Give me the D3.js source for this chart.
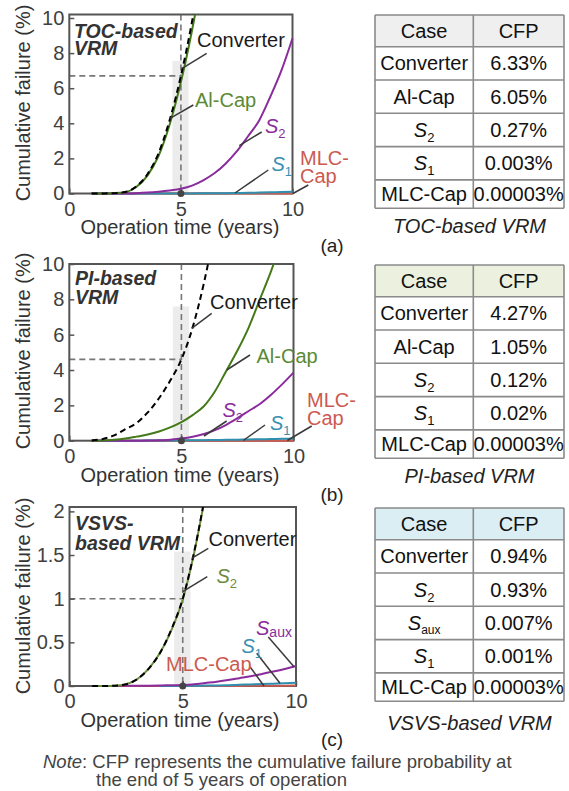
<!DOCTYPE html>
<html><head><meta charset="utf-8">
<script src="https://cdn.jsdelivr.net/npm/d3@7"></script>
<style>
html,body{margin:0;padding:0;background:#fff;}
svg{display:block;font-family:"Liberation Sans",Arial,sans-serif;}
</style></head><body>
<svg id="chart" width="569" height="791"></svg>
<script>
// ---------------- DATA ----------------
const years = [1,1.5,2,2.5,3,3.5,4,4.5,5,5.5,6,6.5,7,7.5,8,8.5,9,9.5,10];
const xTicks = [0,5,10];
const xTickLabels = ["0","5","10"];
const yTicksAB = [0,2,4,6,8,10];
const yTickLabelsAB = ["0","2","4","6","8","10"];
const yTicksC = [0,0.5,1,1.5,2];
const yTickLabelsC = ["0","0.5","1","1.5","2"];

// (a) TOC-based VRM, cumulative failure (%)
const tocConverter = [0,0.005,0.02,0.08,0.4,1.1,2.3,4.2,6.7,9.8,13.5,null,null,null,null,null,null,null,null];
const tocAlCap     = [0,0.005,0.02,0.075,0.37,1.02,2.15,3.95,6.35,9.3,12.8,null,null,null,null,null,null,null,null];
const tocS2        = [0,0,0,0.005,0.02,0.05,0.1,0.17,0.27,0.45,0.75,1.15,1.7,2.4,3.25,4.15,5.5,7.0,8.85];
const tocS1        = [0,0,0,0,0,0,0,0.002,0.003,0.005,0.01,0.015,0.02,0.03,0.04,0.055,0.07,0.085,0.1];
const tocMLC       = [0,0,0,0,0,0,0,0,0,0,0,0,0,0,0,0,0.001,0.002,0.004];
const tocCases = ["Converter","Al-Cap","S_2","S_1","MLC-Cap"];
const tocCFP   = ["6.33%","6.05%","0.27%","0.003%","0.00003%"];

// (b) PI-based VRM
const piConverter = [0.01,0.1,0.3,0.65,1.0,1.6,2.4,3.4,4.6,6.4,8.9,12,null,null,null,null,null,null,null];
const piAlCap     = [0,0.01,0.05,0.12,0.23,0.35,0.52,0.75,1.05,1.45,1.95,2.8,3.95,5.1,6.4,8.0,9.6,11.4,null];
const piS2        = [0,0,0,0,0,0.005,0.02,0.06,0.12,0.22,0.38,0.6,0.9,1.28,1.68,2.08,2.6,3.2,3.85];
const piS1        = [0,0,0,0,0.002,0.005,0.01,0.015,0.02,0.025,0.03,0.04,0.05,0.06,0.07,0.08,0.09,0.105,0.12];
const piMLC       = [0,0,0,0,0,0,0,0,0,0,0,0,0,0,0,0,0.001,0.002,0.003];
const piCases = ["Converter","Al-Cap","S_2","S_1","MLC-Cap"];
const piCFP   = ["4.27%","1.05%","0.12%","0.02%","0.00003%"];

// (c) VSVS-based VRM
const vsConverter = [0,0,0.003,0.02,0.08,0.2,0.38,0.65,1.0,1.53,2.2,null,null,null,null,null,null,null,null];
const vsS2        = [0,0,0.003,0.02,0.08,0.2,0.38,0.64,0.99,1.52,2.19,null,null,null,null,null,null,null,null];
const vsSaux      = [0,0.001,0.001,0.002,0.003,0.004,0.006,0.009,0.012,0.02,0.035,0.05,0.068,0.09,0.112,0.138,0.165,0.195,0.23];
const vsS1        = [null,null,null,null,null,null,0,0,0.001,0.003,0.005,0.007,0.01,0.014,0.018,0.022,0.027,0.032,0.038];
const vsMLC       = [0,0,0,0,0,0,0,0,0,0,0,0,0.001,0.001,0.002,0.002,0.003,0.004,0.005];
const vsCases = ["Converter","S_2","S_aux","S_1","MLC-Cap"];
const vsCFP   = ["0.94%","0.93%","0.007%","0.001%","0.00003%"];

// ---------------- STYLE / LAYOUT ----------------
const C = {
  conv:"#000000", green:"#447a1a", green2:"#6b8e3a", purple:"#8a2c9c", teal:"#2f8fae", red:"#cc5a4f",
  greenTxt:"#5b8a35", greenTxt2:"#6e8b3d", purpleTxt:"#8a2c9c", tealTxt:"#3a90b0", redTxt:"#cc5a4f",
  axis:"#555555", text:"#333333", leader:"#3a3a3a"
};

const panels = [
  { x0:69.3, x1:292.5, yTop:14.5, yBot:193.5, yMax:10.2, yTicks:yTicksAB, yLabels:yTickLabelsAB,
    bandTop:7.55, xTitleY:234, yTitleY:103, letter:{t:"(a)",x:332,y:252},
    title:[{t:"TOC-based",y:38},{t:"VRM",y:55}], titleX:74,
    series:[
      {v:tocMLC,c:C.red},{v:tocS1,c:C.teal},{v:tocS2,c:C.purple},
      {v:tocAlCap,c:C.green},{v:tocConverter,c:C.conv,dash:true}],
    ref:tocConverter,
    labels:[
      {t:"Converter",x:197,y:47,c:"#1a1a1a",l:[206.7,53.3,182.2,68.3]},
      {t:"Al-Cap",x:195,y:107,c:C.greenTxt,l:[193.3,105,170,118.3]},
      {t:"S_2",x:265,y:133,c:C.purpleTxt,l:[261.7,132,239.3,145.7]},
      {t:"S_1",x:271.5,y:171,c:C.tealTxt,l:[268.3,170,235,193]},
      {t:"MLC-",x:300,y:165,c:C.redTxt,l:[308.3,185,293,193.5]},
      {t:"Cap",x:300,y:182.5,c:C.redTxt}],
    table:{top:15, cases:tocCases, cfp:tocCFP, head:"#efefef", cap:"TOC-based VRM", capY:233}
  },
  { x0:69.3, x1:293.5, yTop:264, yBot:440.7, yMax:10, yTicks:yTicksAB, yLabels:yTickLabelsAB,
    bandTop:7.6, xTitleY:482, yTitleY:351, letter:{t:"(b)",x:332,y:501},
    title:[{t:"PI-based",y:285},{t:"VRM",y:304}], titleX:75,
    series:[
      {v:piMLC,c:C.red},{v:piS1,c:C.teal},{v:piS2,c:C.purple},
      {v:piAlCap,c:C.green},{v:piConverter,c:C.conv,dash:true}],
    ref:piConverter,
    labels:[
      {t:"Converter",x:210,y:309,c:"#1a1a1a",l:[211.7,313.3,191.7,328.3]},
      {t:"Al-Cap",x:256.5,y:363,c:C.greenTxt,l:[250,355,226.7,370]},
      {t:"S_2",x:222.5,y:417,c:C.purpleTxt,l:[226.7,421,204,436]},
      {t:"S_1",x:270,y:430,c:C.tealTxt,l:[265,425,243.3,440.5]},
      {t:"MLC-",x:307,y:407,c:C.redTxt,l:[311.7,426,287.3,440.5]},
      {t:"Cap",x:307,y:425,c:C.redTxt}],
    table:{top:265, cases:piCases, cfp:piCFP, head:"#ebf1de", cap:"PI-based VRM", capY:483}
  },
  { x0:69.5, x1:296, yTop:507, yBot:686, yMax:2.05, yTicks:yTicksC, yLabels:yTickLabelsC,
    bandTop:1.54, xTitleY:727, yTitleY:596, letter:{t:"(c)",x:332,y:746},
    title:[{t:"VSVS-",y:530},{t:"based VRM",y:550}], titleX:75,
    series:[
      {v:vsMLC,c:C.red},{v:vsS1,c:C.teal},{v:vsSaux,c:C.purple},
      {v:vsS2,c:C.green2},{v:vsConverter,c:C.conv,dash:true}],
    ref:vsConverter,
    labels:[
      {t:"Converter",x:208.5,y:546,c:"#1a1a1a",l:[208.3,548.3,191.7,558.3]},
      {t:"S_2",x:216.5,y:583,c:C.greenTxt2,l:[207.3,576.7,182.7,591.7]},
      {t:"S_aux",x:256,y:635,c:C.purpleTxt,l:[268.3,637,294,666.7]},
      {t:"S_1",x:241.5,y:653,c:C.tealTxt,l:[256.7,653.3,280,683.3]},
      {t:"MLC-Cap",x:166,y:671,c:C.redTxt,l:[250,666.7,264,686]}],
    table:{top:508, cases:vsCases, cfp:vsCFP, head:"#dbeef4", cap:"VSVS-based VRM", capY:730}
  }
];

const tableX = [375, 473.3, 564];
const rowH = [31.7, 33.3, 33.3, 33.3, 33.3, 28.3];

// ---------------- DRAW ----------------
const svg = d3.select("#chart");
const FS = 20;

function richText(sel, s, opts){
  opts = opts || {};
  if (s.indexOf("_")>0){
    const [b, sub] = s.split("_");
    sel.append("tspan").attr("font-style","italic").text(b);
    sel.append("tspan").attr("font-size", opts.subSize || 13).attr("dy", opts.subDy || 5).text(sub);
  } else sel.text(s);
}

panels.forEach((p, pi) => {
  const g = svg.append("g");
  const x = d3.scaleLinear().domain([0,10]).range([p.x0, p.x1]);
  const y = d3.scaleLinear().domain([0,p.yMax]).range([p.yBot, p.yTop]);

  g.append("rect").attr("x", x(4.62)).attr("width", x(5.34)-x(4.62))
    .attr("y", y(p.bandTop)).attr("height", y(0)-y(p.bandTop)).attr("fill","#ececec");

  const refV = p.ref[years.indexOf(5)];
  g.append("line").attr("x1",x(5)).attr("x2",x(5)).attr("y1",p.yTop).attr("y2",p.yBot)
    .attr("stroke","#777").attr("stroke-width",1.6).attr("stroke-dasharray","6,4");
  g.append("line").attr("x1",x(0)).attr("x2",x(5)).attr("y1",y(refV)).attr("y2",y(refV))
    .attr("stroke","#777").attr("stroke-width",1.6).attr("stroke-dasharray","6,4");

  g.append("rect").attr("x",p.x0).attr("y",p.yTop).attr("width",p.x1-p.x0).attr("height",p.yBot-p.yTop)
    .attr("fill","none").attr("stroke",C.axis).attr("stroke-width",2);

  const ax = g.append("g").attr("transform",`translate(0,${p.yBot})`)
    .call(d3.axisBottom(x).tickValues(xTicks).tickFormat((d,i)=>xTickLabels[i]).tickSize(-5).tickPadding(8));
  const ay = g.append("g").attr("transform",`translate(${p.x0},0)`)
    .call(d3.axisLeft(y).tickValues(p.yTicks).tickFormat((d,i)=>p.yLabels[i]).tickSize(-5).tickPadding(5));
  [ax, ay].forEach(a => {
    a.select(".domain").remove();
    a.selectAll("line").attr("stroke",C.axis).attr("stroke-width",1.5);
    a.selectAll("text").attr("font-size",FS).attr("fill","#404040").attr("font-family","Liberation Sans, Arial, sans-serif");
  });

  g.append("text").attr("x",180).attr("y",p.xTitleY).attr("text-anchor","middle")
    .attr("font-size",FS).attr("fill","#333").text("Operation time (years)");
  g.append("text").attr("transform",`translate(30,${p.yTitleY}) rotate(-90)`).attr("text-anchor","middle")
    .attr("font-size",FS).attr("fill","#333").text("Cumulative failure (%)");

  const clipId = "clip"+pi;
  svg.append("clipPath").attr("id",clipId).append("rect")
    .attr("x",p.x0).attr("y",p.yTop).attr("width",p.x1-p.x0+1).attr("height",p.yBot-p.yTop+1.5);
  const cg = g.append("g").attr("clip-path",`url(#${clipId})`);
  const line = d3.line().defined(d=>d[1]!=null).x(d=>x(d[0])).y(d=>y(d[1])).curve(d3.curveMonotoneX);
  p.series.forEach(s => {
    cg.append("path").attr("d", line(years.map((t,i)=>[t, s.v[i]])))
      .attr("fill","none").attr("stroke",s.c).attr("stroke-width",2)
      .attr("stroke-dasharray", s.dash?"6,4":null);
  });

  g.append("circle").attr("cx",x(5)).attr("cy",y(0)).attr("r",3.5).attr("fill","#444");

  p.title.forEach(tl => {
    g.append("text").attr("x",p.titleX).attr("y",tl.y).attr("font-size",19.5)
      .attr("font-weight","bold").attr("font-style","italic").attr("fill","#333").text(tl.t);
  });

  p.labels.forEach(lb => {
    if (lb.l) g.append("line").attr("x1",lb.l[0]).attr("y1",lb.l[1]).attr("x2",lb.l[2]).attr("y2",lb.l[3])
      .attr("stroke",C.leader).attr("stroke-width",1.5);
    const t = g.append("text").attr("x",lb.x).attr("y",lb.y).attr("font-size",FS).attr("fill",lb.c);
    if (lb.t === "S_aux") richText(t, lb.t, {subSize:14, subDy:2});
    else richText(t, lb.t);
  });

  g.append("text").attr("x",p.letter.x).attr("y",p.letter.y).attr("text-anchor","middle")
    .attr("font-size",19).attr("fill","#222").text(p.letter.t);

  const tb = p.table;
  const edges = [tb.top];
  rowH.forEach(h => edges.push(edges[edges.length-1]+h));
  const tg = svg.append("g");
  tg.append("rect").attr("x",tableX[0]).attr("y",edges[0]).attr("width",tableX[2]-tableX[0])
    .attr("height",edges[1]-edges[0]).attr("fill",tb.head);
  edges.forEach(e => tg.append("line").attr("x1",tableX[0]).attr("x2",tableX[2]).attr("y1",e).attr("y2",e)
    .attr("stroke","#8a8a8a").attr("stroke-width",1.6));
  tableX.forEach(xx => tg.append("line").attr("x1",xx).attr("x2",xx).attr("y1",edges[0]).attr("y2",edges[edges.length-1])
    .attr("stroke","#8a8a8a").attr("stroke-width",1.6));
  const rows = [["Case","CFP"]].concat(tb.cases.map((c,i)=>[c, tb.cfp[i]]));
  rows.forEach((r,i) => {
    const cy = (edges[i]+edges[i+1])/2 + 7;
    const t1 = tg.append("text").attr("x",(tableX[0]+tableX[1])/2).attr("y",cy).attr("text-anchor","middle")
      .attr("font-size",FS).attr("fill","#111");
    if (r[0]==="S_aux") richText(t1, r[0], {subSize:12, subDy:4}); else richText(t1, r[0]);
    tg.append("text").attr("x",(tableX[1]+tableX[2])/2).attr("y",cy).attr("text-anchor","middle")
      .attr("font-size",FS).attr("fill","#111").text(r[1]);
  });
  tg.append("text").attr("x",(tableX[0]+tableX[2])/2).attr("y",tb.capY).attr("text-anchor","middle")
    .attr("font-size",FS).attr("font-style","italic").attr("fill","#222").text(tb.cap);
});

const note = svg.append("text").attr("x",43).attr("y",768).attr("font-size",18.5).attr("fill","#444");
note.append("tspan").attr("font-style","italic").text("Note");
note.append("tspan").text(": CFP represents the cumulative failure probability at");
svg.append("text").attr("x",96).attr("y",786).attr("font-size",18.5).attr("fill","#444")
  .text("the end of 5 years of operation");
</script>
</body></html>
